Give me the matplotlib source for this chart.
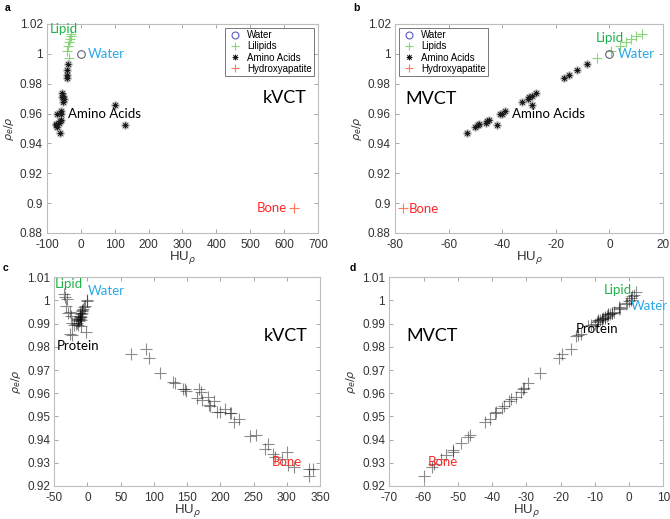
import matplotlib
matplotlib.use("Agg")
import matplotlib.pyplot as plt
from matplotlib.lines import Line2D
from matplotlib.ticker import FuncFormatter, MultipleLocator
import numpy as np

# ---------------- data ----------------
# panels a / b : basic components
water_rho = [1.000]
water_hu_kv = [0.0]
water_hu_mv = [0.0]

lipid_rho = [0.997, 1.002, 1.005, 1.008, 1.010, 1.012, 1.013]
lipid_hu_kv = [-36, -40, -38, -35, -33, -30, -28]
lipid_hu_mv = [-4.5, 0.5, 4.0, 6.0, 8.0, 10.0, 12.0]

amino_rho = [0.947, 0.951, 0.952, 0.953, 0.954, 0.955, 0.956, 0.952, 0.960, 0.960,
             0.962, 0.968, 0.970, 0.971, 0.972, 0.974, 0.966, 0.984, 0.986, 0.989, 0.993]
amino_hu_kv = [-62, -70, -72, -74, -65, -62, -60, 130, -70, -60,
               -58, -52, -50, -55, -53, -56, 100, -42, -40, -42, -38]
amino_hu_mv = [-53, -50, -49, -48.5, -46, -45.5, -45, -42, -41, -40,
               -39, -32.5, -30.5, -30, -29, -27.5, -29, -17, -15, -12, -8.5]

bone_rho = [0.8965]
bone_hu_kv = [630]
bone_hu_mv = [-77]

# panel c : kVCT tissues
c_hu = [-36, -34, -31, -33, -29, -26, -25, -24, -26, -24, -2, 0, -1, -4, -5, -7,
        -20, -18, -16, -15, -14, -13, -12, -11, -10, -9, -13, -11, -10, -9, -12, -8, -10, -14, -10,
        65, 88, 92, 109, 128, 131, 144, 147, 149, 165, 168, 171, 172, 181, 183, 185, 191,
        195, 200, 207, 214, 216, 221, 228, 244, 254, 267, 271, 280, 283, 293, 300, 302,
        311, 334, 339, 334]
c_rho = [1.003, 1.0015, 1.0005, 0.9975, 0.9945, 0.9952, 0.9935, 0.9902, 0.9855, 0.9850,
         0.9862, 1.0000, 0.9998, 0.9978, 0.9972, 0.9965,
         0.9895, 0.9900, 0.9905, 0.9915, 0.9920, 0.9925, 0.9930, 0.9935, 0.9940, 0.9948,
         0.9912, 0.9922, 0.9928, 0.9958, 0.9945, 0.9955, 0.9915, 0.9895, 0.9888,
         0.9770, 0.9790, 0.9752, 0.9686, 0.9648, 0.9643, 0.9620, 0.9620, 0.9610, 0.9578,
         0.9617, 0.9607, 0.9569, 0.9585, 0.9549, 0.9546, 0.9565, 0.9518, 0.9518, 0.9533,
         0.9516, 0.9514, 0.9477, 0.9490, 0.9415, 0.9418, 0.9360, 0.9383, 0.9340, 0.9325,
         0.9318, 0.9348, 0.9290, 0.9282, 0.9272, 0.9273, 0.9245]

# panel d : MVCT tissues
d_hu = [-60, -57.5, -57, -55, -53.5, -51.5, -51.5, -49, -47, -46.5, -42, -40.5, -39, -38.8,
        -37, -36.5, -35, -34.5, -33, -31.5, -31, -30.8, -29.5, -26, -20.5, -19.5, -17,
        -15.5, -14, -15,
        -11, -10, -9.5, -9, -8.5, -8, -7.5, -7, -6.5, -6, -5.5, -5, -4.5, -3, -2.5,
        -9, -8, -7, -6, -5, -12, -3, -1,
        0, 0.5, -0.5, 1, 1.5, 2, 0.5]
d_rho = [0.9245, 0.9280, 0.9293, 0.9316, 0.9333, 0.9348, 0.9355, 0.9385, 0.9413, 0.9420,
         0.9477, 0.9490, 0.9516, 0.9520, 0.9535, 0.9545, 0.9568, 0.9575, 0.9585, 0.9607,
         0.9618, 0.9622, 0.9646, 0.9688, 0.9750, 0.9770, 0.9790, 0.9848, 0.9855, 0.9852,
         0.9893, 0.9900, 0.9908, 0.9912, 0.9918, 0.9922, 0.9926, 0.9930, 0.9935, 0.9938,
         0.9942, 0.9946, 0.9950, 0.9965, 0.9968, 0.9915, 0.9920, 0.9925, 0.9940, 0.9948,
         0.9890, 0.9970, 0.9985,
         0.9998, 1.0000, 0.9990, 1.0018, 1.0025, 1.0038, 1.0010]

legend_a = ["Water", "Lilipids", "Amino Acids", "Hydroxyapatite"]
legend_b = ["Water", "Lipids", "Amino Acids", "Hydroxyapatite"]

# ---------------- style ----------------
W, H = 670, 519
fig = plt.figure(figsize=(W / 100, H / 100), dpi=100)

TICK_C = "#333333"
SPINE_C = "#bdbdbd"
GREEN_T = "#1db34a"
BLUE_T = "#29a9e8"
RED_T = "#ff2a2a"
ANN_FONT = "Lato"
TICK_FONT = "Liberation Sans"

WATER_C = "#5a5ac0"
LIPID_C = "#8ad47a"
AMINO_C = "#1a1a1a"
HAP_C = "#ff7a5a"

ASTER = (8, 2, 0)

fmt = FuncFormatter(lambda v, p: "%g" % round(v, 4))


def style_axes(ax, xlim, xstep, ylim, ystep):
    ax.set_xlim(*xlim)
    ax.set_ylim(*ylim)
    ax.xaxis.set_major_locator(MultipleLocator(xstep))
    ax.yaxis.set_major_locator(MultipleLocator(ystep))
    ax.xaxis.set_major_formatter(fmt)
    ax.yaxis.set_major_formatter(fmt)
    for s in ax.spines.values():
        s.set_color(SPINE_C)
        s.set_linewidth(0.8)
    ax.tick_params(direction="in", length=3, width=0.6, color="#999999",
                   labelcolor=TICK_C, labelsize=8.5, top=True, right=True)
    ax.tick_params(axis="x", pad=4)
    ax.tick_params(axis="y", pad=3)
    for lab in ax.get_xticklabels() + ax.get_yticklabels():
        lab.set_fontfamily(TICK_FONT)
    ax.set_xlabel(r"HU$_{\rho}$", fontsize=9.5, color=TICK_C, labelpad=-1,
                  fontfamily=TICK_FONT)
    ax.set_ylabel(r"$\rho_e/\rho$", fontsize=8, color=TICK_C, labelpad=3)


def ann(ax, x, y, s, c, size=9.5, ha="left"):
    ax.text(x, y, s, color=c, fontsize=size, ha=ha, va="center", fontfamily=ANN_FONT)


def basic_panel(ax, hu_w, hu_l, hu_a, hu_b, labels, loc):
    ax.plot(hu_a, amino_rho, linestyle="none", marker=ASTER, ms=6, mew=1.4,
            color="#a0a0a0", alpha=0.55)
    ax.plot(hu_a, amino_rho, linestyle="none", marker=ASTER, ms=4, mew=0.6,
            color=AMINO_C)
    ax.plot(hu_l, lipid_rho, linestyle="none", marker="+", ms=6.5, mew=0.8, color=LIPID_C)
    ax.plot(hu_w, water_rho, linestyle="none", marker="o", ms=5.5, mew=0.8,
            mfc="none", mec="#606070")
    ax.plot(hu_b, bone_rho, linestyle="none", marker="+", ms=6.5, mew=0.8, color=HAP_C)
    handles = [
        Line2D([], [], linestyle="none", marker="o", ms=5, mew=0.8, mfc="none", mec=WATER_C),
        Line2D([], [], linestyle="none", marker="+", ms=6, mew=0.8, color=LIPID_C),
        Line2D([], [], linestyle="none", marker=ASTER, ms=4, mew=0.6, color=AMINO_C),
        Line2D([], [], linestyle="none", marker="+", ms=6, mew=0.8, color=HAP_C),
    ]
    leg = ax.legend(handles, labels, loc=loc, frameon=True, fancybox=False,
                    edgecolor="#555555", borderpad=0.25, labelspacing=0.12,
                    handlelength=1.5, handletextpad=0.5, borderaxespad=0.4,
                    prop={"family": TICK_FONT, "size": 7})
    leg.get_frame().set_linewidth(0.7)


# ---- panel a ----
axa = fig.add_axes([0.0701, 0.5511, 0.4045, 0.4027])
basic_panel(axa, water_hu_kv, lipid_hu_kv, amino_hu_kv, bone_hu_kv, legend_a, "upper right")
style_axes(axa, (-100, 700), 100, (0.88, 1.02), 0.02)
ann(axa, -92, 1.0165, "Lipid", GREEN_T)
ann(axa, 22, 1.0, "Water", BLUE_T)
ann(axa, -38, 0.960, "Amino Acids", "black")
ann(axa, 603, 0.9705, "kVCT", "black", size=13, ha="center")
ann(axa, 608, 0.8965, "Bone", RED_T, ha="right")

# ---- panel b ----
axb = fig.add_axes([0.5896, 0.5511, 0.4000, 0.4027])
basic_panel(axb, water_hu_mv, lipid_hu_mv, amino_hu_mv, bone_hu_mv, legend_b, "upper left")
style_axes(axb, (-80, 20), 20, (0.88, 1.02), 0.02)
ann(axb, -5.2, 1.0105, "Lipid", GREEN_T)
ann(axb, 3.3, 1.0, "Water", BLUE_T)
ann(axb, -36.5, 0.960, "Amino Acids", "black")
ann(axb, -76, 0.970, "MVCT", "black", size=13)
ann(axb, -75, 0.896, "Bone", RED_T)

# ---- panel c ----
axc = fig.add_axes([0.0810, 0.0636, 0.3966, 0.4021])
axc.plot(c_hu, c_rho, linestyle="none", marker="+", ms=8, mew=0.8, color="black", alpha=0.45)
style_axes(axc, (-50, 350), 50, (0.92, 1.01), 0.01)
ann(axc, -49, 1.0073, "Lipid", GREEN_T)
ann(axc, 1, 1.0042, "Water", BLUE_T)
ann(axc, -46, 0.9805, "Protein", "black")
ann(axc, 298, 0.9845, "kVCT", "black", size=13, ha="center")
ann(axc, 278, 0.9305, "Bone", RED_T)

# ---- panel d ----
axd = fig.add_axes([0.5810, 0.0636, 0.4090, 0.4021])
axd.plot(d_hu, d_rho, linestyle="none", marker="+", ms=8, mew=0.8, color="black", alpha=0.45)
style_axes(axd, (-70, 10), 10, (0.92, 1.01), 0.01)
ann(axd, -7.3, 1.0045, "Lipid", GREEN_T)
ann(axd, 0.6, 0.9976, "Water", BLUE_T)
ann(axd, -15.5, 0.9877, "Protein", "black")
ann(axd, -65, 0.9845, "MVCT", "black", size=13)
ann(axd, -58.8, 0.9305, "Bone", RED_T)

# panel letters
for x, y, s in [(5, 8, "a"), (353, 8, "b"), (3, 268, "c"), (350, 268, "d")]:
    fig.text(x / W, 1 - y / H, s, fontsize=7.5, fontweight="bold", ha="left", va="center",
             fontfamily="Liberation Sans")

fig.savefig("out.png", dpi=100)
